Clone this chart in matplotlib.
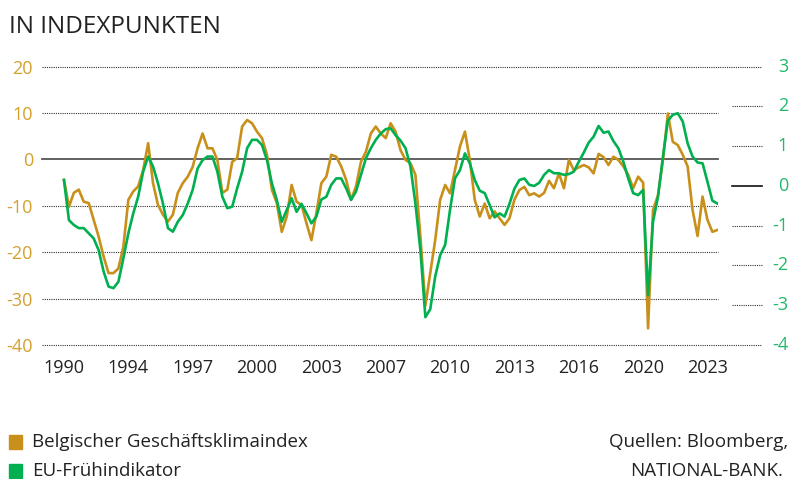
import matplotlib
matplotlib.use('Agg')
import matplotlib.pyplot as plt
import matplotlib.transforms as mtransforms
from matplotlib.patches import Rectangle
import pandas as pd

plt.rcParams['font.family'] = ['Open Sans', 'DejaVu Sans']
plt.rcParams['axes.unicode_minus'] = False

# -- Data (quarterly readings, first point Oct 1990) --------------------------
START = '1990-10-01'

# Belgischer Geschaeftsklimaindex, left axis (index points)
belgium = [
    -4.4, -10.2, -7.2, -6.5, -9.1, -9.4, -13.0, -16.6, -20.9, -24.5,
    -24.5, -23.5, -18.8, -8.7, -6.9, -5.8, -2.3, 3.5, -5.1, -9.8,
    -11.9, -13.4, -11.9, -7.2, -5.1, -3.7, -1.6, 2.4, 5.6, 2.4,
    2.4, -0.1, -7.2, -6.5, -0.5, 0.3, 7.1, 8.5, 7.8, 6.0,
    4.6, 1.0, -6.5, -9.4, -15.6,
    -12.3, -5.5, -9.1, -9.8, -13.8, -17.4, -11.6, -5.1, -3.7, 1.0,
    0.6, -1.5, -4.4, -8.7, -5.8, -0.5, 1.7, 5.6, 7.1, 5.6,
    4.6, 7.8, 6.0, 2.0, -0.1, -0.8, -3.3, -16.6, -31.5, -24.5,
    -17.4, -8.7, -5.5, -7.3, -2.3, 2.8, 6.0, -0.1, -8.7, -12.3,
    -9.5, -12.7, -11.2, -12.7, -14.1,
    -12.7, -8.7, -6.6, -5.9, -7.7, -7.3, -8.0, -7.2, -4.6, -6.2,
    -3.0, -6.2, -0.1, -2.3, -1.7, -1.2, -1.7, -3.0, 1.2, 0.5,
    -1.2, 0.6, -0.1, -1.5, -3.3, -6.2, -3.7, -5.0, -36.4, -10.9,
    -7.7, -0.1, 9.9, 3.8, 3.1, 1.0, -1.5, -10.9, -16.5, -8.0,
    -13.0, -15.6, -15.2,
]

# EU-Fruehindikator, right axis
eu_lead = [
    0.15, -0.86, -0.98, -1.06, -1.06, -1.19, -1.32, -1.61, -2.15, -2.53,
    -2.57, -2.41, -1.82, -1.19, -0.69, -0.27, 0.36, 0.74, 0.49, 0.07,
    -0.44, -1.06, -1.15, -0.90, -0.73, -0.44, -0.10, 0.44, 0.65, 0.74,
    0.74, 0.36, -0.27, -0.56, -0.52, -0.06, 0.36, 0.95, 1.16, 1.16,
    1.03, 0.65, 0.07, -0.35, -0.90,
    -0.60, -0.31, -0.65, -0.45, -0.69, -0.94, -0.77, -0.34, -0.27, 0.03,
    0.19, 0.19, -0.06, -0.35, -0.14, 0.28, 0.70, 0.95, 1.16, 1.32,
    1.43, 1.45, 1.28, 1.14, 0.95, 0.49, -0.44, -1.61, -3.30, -3.10,
    -2.28, -1.74, -1.48, -0.60, 0.19, 0.40, 0.82, 0.57, 0.15, -0.12,
    -0.18, -0.48, -0.79, -0.69, -0.77,
    -0.45, -0.07, 0.15, 0.19, 0.03, 0.00, 0.08, 0.28, 0.40, 0.32,
    0.32, 0.28, 0.30, 0.36, 0.61, 0.84, 1.09, 1.24, 1.51, 1.34,
    1.37, 1.13, 0.95, 0.61, 0.19, -0.18, -0.23, -0.10, -2.75, -0.90,
    -0.27, 0.74, 1.64, 1.79, 1.83, 1.62, 1.07, 0.74, 0.59, 0.57,
    0.11, -0.37, -0.44,
]

x_tick_dates = ['1990-10-01', '1994-01-01', '1997-04-01', '2000-07-01',
                '2003-10-01', '2007-01-01', '2010-04-01', '2013-07-01',
                '2016-10-01', '2020-01-01', '2023-04-01']
x_tick_labels = ['1990', '1994', '1997', '2000', '2003', '2007',
                 '2010', '2013', '2016', '2020', '2023']
left_ticks = [20, 10, 0, -10, -20, -30, -40]
right_ticks = [3, 2, 1, 0, -1, -2, -3, -4]

# -- Style ---------------------------------------------------------------------
GOLD = '#C8901A'
GOLD_TXT = '#D4A02E'
GREEN = '#00B050'
GREEN_TXT = '#22B96A'
DARK = '#222222'
DOT = (0, (1, 1))

W, H = 790, 479
fig = plt.figure(figsize=(W / 100, H / 100), dpi=100)


def fx(px):
    return px / W


def fy(py):
    return 1 - py / H


ax = fig.add_axes([fx(42), fy(345), fx(718) - fx(42), fy(66.7) - fy(345)])
ax2 = ax.twinx()

dates = pd.date_range(START, periods=len(belgium), freq='3MS')

ax.plot(dates, belgium, color=GOLD, lw=1.9, solid_joinstyle='round', zorder=3)
ax2.plot(dates, eu_lead, color=GREEN, lw=1.9, solid_joinstyle='round', zorder=3)

ax.set_xlim(pd.Timestamp('1989-08-22'), pd.Timestamp('2023-10-13'))
ax.set_ylim(-40, 20)
ax2.set_ylim(-4, 3)

# -- Grid lines ---------------------------------------------------------------
t_left = mtransforms.blended_transform_factory(ax.transAxes, ax.transData)
for v in left_ticks:
    if v == 0:
        ax.plot([0, 1], [v, v], transform=t_left, color='#555555', lw=1.3,
                zorder=2, clip_on=False)
    elif v in (20, -40):
        ax.plot([0, 1.065], [v, v], transform=t_left, color='#333333', lw=0.8,
                ls=DOT, zorder=1, clip_on=False)
    else:
        ax.plot([0, 1], [v, v], transform=t_left, color='#333333', lw=0.8,
                ls=DOT, zorder=1, clip_on=False)

t_right = mtransforms.blended_transform_factory(ax2.transAxes, ax2.transData)
for v in right_ticks:
    if v == 0:
        ax2.plot([1.0207, 1.065], [v, v], transform=t_right, color='#111111',
                 lw=1.2, clip_on=False)
    elif v not in (3, -4):
        ax2.plot([1.0207, 1.065], [v, v], transform=t_right, color='#333333',
                 lw=0.8, ls=DOT, clip_on=False)
    ax2.text(1.1036, v, str(v), transform=t_right, ha='right', va='center',
             fontsize=13, color=GREEN_TXT)

# -- Axes / ticks --------------------------------------------------------------
for a in (ax, ax2):
    for s in a.spines.values():
        s.set_visible(False)
    a.tick_params(length=0)

ax.set_yticks(left_ticks)
ax.set_yticklabels([str(v) for v in left_ticks], fontsize=13, color=GOLD_TXT)
ax.tick_params(axis='y', pad=6.5)
ax2.set_yticks([])

ax.set_xticks(pd.to_datetime(x_tick_dates))
ax.set_xticklabels(x_tick_labels, fontsize=13, color=DARK)
ax.tick_params(axis='x', pad=10)

# -- Texts ---------------------------------------------------------------------
fig.text(fx(9), fy(33), 'IN INDEXPUNKTEN', fontsize=17.5, color=DARK,
         ha='left', va='baseline')

for cy, col, label in [(442, GOLD, 'Belgischer Geschäftsklimaindex'),
                       (471, GREEN, 'EU-Frühindikator')]:
    fig.patches.append(Rectangle((fx(9), fy(cy + 7)), fx(13), 14 / H,
                                 transform=fig.transFigure, color=col))
    fig.text(fx(32), fy(cy), label, fontsize=13.5, color=DARK,
             ha='left', va='center')

fig.text(fx(788), fy(442), 'Quellen: Bloomberg,', fontsize=13.5, color=DARK,
         ha='right', va='center')
fig.text(fx(783), fy(471), 'NATIONAL-BANK.', fontsize=13.5, color=DARK,
         ha='right', va='center')

fig.savefig('out.png', dpi=100)
